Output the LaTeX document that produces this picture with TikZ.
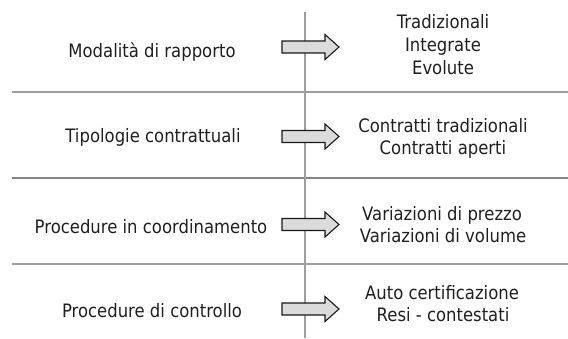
\documentclass[tikz,border=0pt]{standalone}
\usepackage{fontspec}
\setmainfont{DejaVu Sans}[FakeStretch=0.89]
\begin{document}
\begin{tikzpicture}[x=1pt,y=-1pt,
  txt/.style={anchor=base,inner sep=0pt,text=black!88,font=\fontsize{18.5}{22}\selectfont},
  rule/.style={draw=black!38,line width=1.1pt},
  rulemid/.style={draw=black!48,line width=1.3pt},
  blockarr/.pic={\draw[fill=black!14,draw=black!90,line width=1.1pt,line join=miter]
     (-28.5,-6) -- (14.5,-6) -- (14.5,-12.5) -- (28.5,0) -- (14.5,12.5) -- (14.5,6) -- (-28.5,6) -- cycle;}]
\useasboundingbox (0,0) rectangle (568,338);
% separator lines
\coordinate (vt) at (305,12);
\coordinate (vb) at (305,338);
\coordinate (h1l) at (12,92);  \coordinate (h1r) at (568,92);
\coordinate (h2l) at (12,178); \coordinate (h2r) at (568,178);
\coordinate (h3l) at (12,264); \coordinate (h3r) at (568,264);
\draw[rule] (h1l) -- (h1r);
\draw[rulemid] (h2l) -- (h2r);
\draw[rule] (h3l) -- (h3r);
\draw[rule] (vt) -- (vb);
% arrows
\pic (a1) at (310.5,47) {blockarr};
\pic (a2) at (310.5,136.5) {blockarr};
\pic (a3) at (310.5,224.5) {blockarr};
\pic (a4) at (310.5,309) {blockarr};
% left labels
\node[txt] (l1) at (152,57) {Modalità di rapporto};
\node[txt] (l2) at (153,142) {Tipologie contrattuali};
\node[txt] (l3) at (151,233) {Procedure in coordinamento};
\node[txt] (l4) at (152,317) {Procedure di controllo};
% right labels
\node[txt] (r1a) at (443,28) {Tradizionali};
\node[txt] (r1b) at (443,51) {Integrate};
\node[txt] (r1c) at (443,74) {Evolute};
\node[txt] (r2a) at (443,132) {Contratti tradizionali};
\node[txt] (r2b) at (443,154) {Contratti aperti};
\node[txt] (r3a) at (442,220) {Variazioni di prezzo};
\node[txt] (r3b) at (443,242) {Variazioni di volume};
\node[txt] (r4a) at (442,299) {Auto certificazione};
\node[txt] (r4b) at (443,321) {Resi - contestati};
\end{tikzpicture}
\end{document}
